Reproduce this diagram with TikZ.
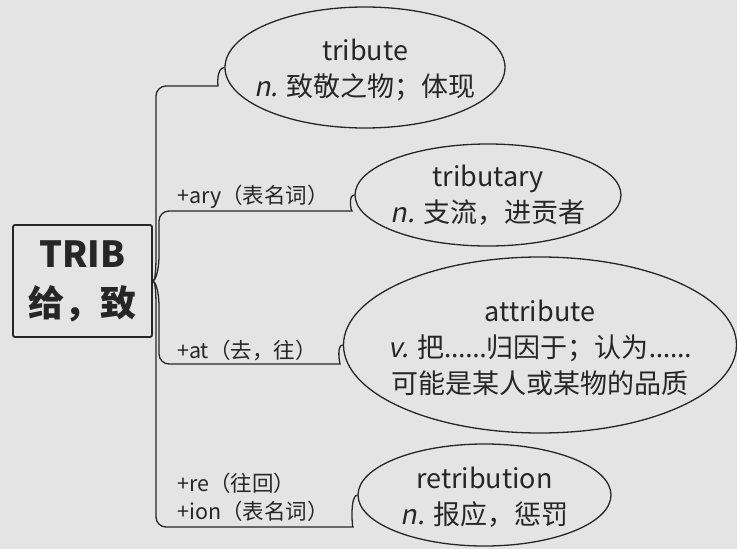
\documentclass[tikz,border=0pt]{standalone}
\usepackage{fontspec}
\setmainfont{Noto Sans CJK SC}
\newfontfamily\slfont{Noto Sans CJK SC}[FakeSlant=0.2]
\newfontfamily\latinfont{Noto Sans}
\newcommand{\dotsx}{{\latinfont ……}}
\usetikzlibrary{shapes.geometric}
\definecolor{bg}{HTML}{E4E4E4}
\definecolor{ink}{HTML}{262626}
\begin{document}
\begin{tikzpicture}[x=1pt,y=-1pt,
  leaf/.style={ellipse,draw=ink,line width=1.3pt,inner sep=0pt},
  leaftext/.style={text=ink,align=center,font=\fontsize{27}{36}\selectfont},
  lab/.style={text=ink,anchor=west,inner sep=0pt,font=\fontsize{21.5}{28}\selectfont},
  branch/.style={draw=ink,line width=1.3pt},
  rootbox/.style={draw=ink,line width=1.8pt,rounded corners=2pt,minimum width=139pt,minimum height=112pt,align=center,text=ink,font=\fontsize{36}{49}\selectfont\bfseries}]
\useasboundingbox[fill=bg] (0,0) rectangle (737,549);
\node[rootbox] (root) at (82.5,281) {TRIB\\给，致};
\node[leaf,minimum width=280pt,minimum height=121pt] (e1) at (365,67.5) {};
\node[leaftext] (t1) at (365,70) {tribute\\{\slfont n.} 致敬之物；体现};
\node[leaf,minimum width=266pt,minimum height=102pt] (e2) at (488,195) {};
\node[leaftext] (t2) at (488,195) {tributary\\{\slfont n.} 支流，进贡者};
\node[leaf,minimum width=393pt,minimum height=176pt] (e3) at (540,345) {};
\node[leaftext] (t3) at (540,348) {attribute\\{\slfont v.} 把\dotsx 归因于；认为\dotsx\\可能是某人或某物的品质};
\node[leaf,minimum width=253pt,minimum height=102pt] (e4) at (484.5,495) {};
\node[leaftext] (t4) at (484.5,497) {retribution\\{\slfont n.} 报应，惩罚};
\node[lab] (l2) at (177,197) {+ary（表名词）};
\node[lab] (l3) at (177,350) {+at（去，往）};
\node[lab] (l4a) at (177,483) {+re（往回）};
\node[lab] (l4b) at (177,511) {+ion（表名词）};
\draw[branch] (root.east) .. controls (155,281) and (156,272) .. (156,255)
  [rounded corners=10pt] -- (156,86) -- (208,86) [sharp corners]
  .. controls (218,86) and (216,68) .. (e1.west);
\draw[branch] (root.east) .. controls (155,281) and (159,272) .. (159,255)
  [rounded corners=10pt] -- (159,211) -- (342,211) [sharp corners]
  .. controls (351,211) and (348,195) .. (e2.west);
\draw[branch] (root.east) .. controls (155,281) and (159,290) .. (159,307)
  [rounded corners=10pt] -- (159,364) -- (330,364) [sharp corners]
  .. controls (340,364) and (336,345) .. (e3.west);
\draw[branch] (root.east) .. controls (155,281) and (156,290) .. (156,307)
  [rounded corners=10pt] -- (156,527) -- (343,527) [sharp corners]
  .. controls (352,527) and (350,495) .. (e4.west);
\end{tikzpicture}
\end{document}
